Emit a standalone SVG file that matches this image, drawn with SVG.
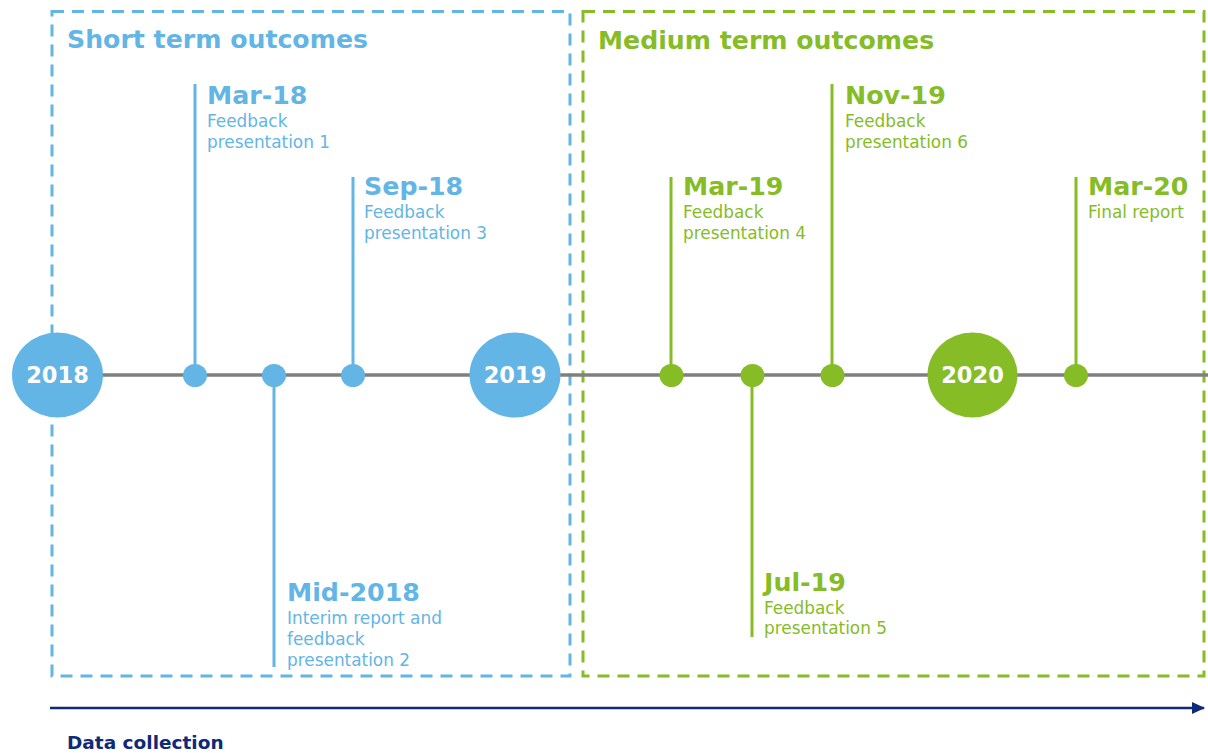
<svg xmlns="http://www.w3.org/2000/svg" width="1208" height="753" viewBox="0 0 1208 753">
<defs>
<style>
.bl{fill:#63b5e5}
.gr{fill:#86bc25}
.t{font-family:"DejaVu Sans","Verdana",sans-serif}
.title{font-size:25.2px;font-weight:bold}
.date{font-size:25.3px;font-weight:bold}
.desc{font-size:16.9px}
.yr{font-size:22.5px;font-weight:bold;fill:#ffffff;text-anchor:middle}
.stemb{stroke:#63b5e5;stroke-width:3}
.stemg{stroke:#86bc25;stroke-width:3}
</style>
<marker id="arr" markerWidth="14" markerHeight="14" refX="12" refY="7" orient="auto" markerUnits="userSpaceOnUse">
<path d="M0,1 L13,7 L0,13 z" fill="#0f2a78"/>
</marker>
</defs>
<rect width="1208" height="753" fill="#ffffff"/>
<g id="frames">
<rect x="52" y="11.5" width="518" height="664.5" fill="none" stroke="#63b5e5" stroke-width="3" stroke-dasharray="12,8"/>
<rect x="583" y="11.5" width="621" height="664.5" fill="none" stroke="#86bc25" stroke-width="3" stroke-dasharray="12,8"/>
<text class="t title bl" x="67" y="48">Short term outcomes</text>
<text class="t title gr" x="598" y="49">Medium term outcomes</text>
</g>
<g id="connectors">
<line x1="57" y1="375" x2="1208" y2="375" stroke="#7f7f7f" stroke-width="3.5"/>
<line class="stemb" x1="195" y1="84" x2="195" y2="375"/>
<line class="stemb" x1="353" y1="177" x2="353" y2="375"/>
<line class="stemb" x1="274" y1="375" x2="274" y2="667"/>
<line class="stemg" x1="671" y1="177" x2="671" y2="375"/>
<line class="stemg" x1="832" y1="84" x2="832" y2="375"/>
<line class="stemg" x1="752" y1="375" x2="752" y2="637"/>
<line class="stemg" x1="1076" y1="177" x2="1076" y2="375"/>
<line x1="50" y1="708" x2="1204" y2="708" stroke="#0f2a78" stroke-width="2.5" marker-end="url(#arr)"/>
</g>
<g id="y2018"><ellipse class="bl" cx="57.5" cy="375" rx="45.5" ry="42.5"/><text class="t yr" x="57.5" y="383">2018</text></g>
<g id="y2019"><ellipse class="bl" cx="515" cy="375" rx="45.5" ry="42.5"/><text class="t yr" x="515" y="383">2019</text></g>
<g id="y2020"><ellipse class="gr" cx="972.5" cy="375" rx="45" ry="42.5"/><text class="t yr" x="972.5" y="383">2020</text></g>
<g id="mar18"><ellipse class="bl" cx="195" cy="375.5" rx="12" ry="11.5"/><text class="t date bl" x="207" y="104">Mar-18</text><text class="t desc bl" x="207" y="127">Feedback</text><text class="t desc bl" x="207" y="148">presentation 1</text></g>
<g id="mid2018"><ellipse class="bl" cx="274" cy="375.5" rx="12" ry="11.5"/><text class="t date bl" x="287" y="601">Mid-2018</text><text class="t desc bl" x="287" y="624">Interim report and</text><text class="t desc bl" x="287" y="645">feedback</text><text class="t desc bl" x="287" y="666">presentation 2</text></g>
<g id="sep18"><ellipse class="bl" cx="353" cy="375.5" rx="12" ry="11.5"/><text class="t date bl" x="364" y="195">Sep-18</text><text class="t desc bl" x="364" y="218">Feedback</text><text class="t desc bl" x="364" y="239">presentation 3</text></g>
<g id="mar19"><ellipse class="gr" cx="671.5" cy="375.5" rx="12" ry="11.5"/><text class="t date gr" x="683" y="195">Mar-19</text><text class="t desc gr" x="683" y="218">Feedback</text><text class="t desc gr" x="683" y="239">presentation 4</text></g>
<g id="jul19"><ellipse class="gr" cx="752.5" cy="375.5" rx="12" ry="11.5"/><text class="t date gr" x="764" y="591">Jul-19</text><text class="t desc gr" x="764" y="614">Feedback</text><text class="t desc gr" x="764" y="634">presentation 5</text></g>
<g id="nov19"><ellipse class="gr" cx="832.5" cy="375.5" rx="12" ry="11.5"/><text class="t date gr" x="845" y="104">Nov-19</text><text class="t desc gr" x="845" y="127">Feedback</text><text class="t desc gr" x="845" y="148">presentation 6</text></g>
<g id="mar20"><ellipse class="gr" cx="1076" cy="375.5" rx="12" ry="11.5"/><text class="t date gr" x="1088" y="195">Mar-20</text><text class="t desc gr" x="1088" y="218">Final report</text></g>
<g id="datacollection"><text class="t" x="67" y="749" font-size="18.5" font-weight="bold" fill="#0f2a78">Data collection</text></g>
</svg>
